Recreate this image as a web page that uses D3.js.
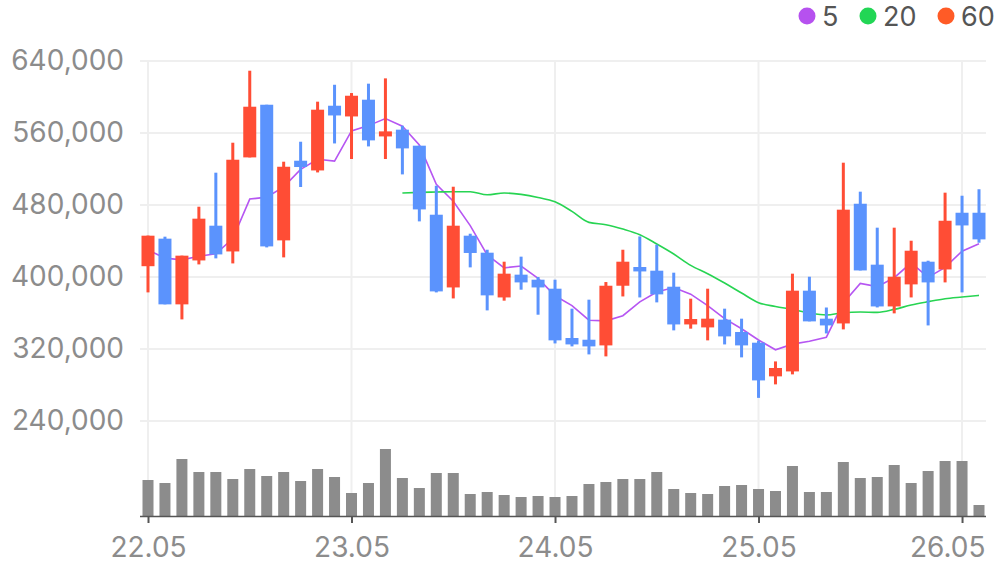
<!DOCTYPE html>
<html>
<head>
<meta charset="utf-8">
<script src="https://cdn.jsdelivr.net/npm/d3@7/dist/d3.min.js"></script>
<style>
  html, body { margin: 0; padding: 0; background: #ffffff; }
  svg { display: block; }
  text { font-family: Inter, "Noto Sans", sans-serif; }
</style>
</head>
<body>
<svg id="chart" width="996" height="567"></svg>
<script>
// ---- data (monthly candles, values in KRW) ----
const months = ["22.05","22.06","22.07","22.08","22.09","22.10","22.11","22.12",
  "23.01","23.02","23.03","23.04","23.05","23.06","23.07","23.08","23.09","23.10","23.11","23.12",
  "24.01","24.02","24.03","24.04","24.05","24.06","24.07","24.08","24.09","24.10","24.11","24.12",
  "25.01","25.02","25.03","25.04","25.05","25.06","25.07","25.08","25.09","25.10","25.11","25.12",
  "26.01","26.02","26.03","26.04","26.05","26.06"];
const openV  = [412000,442600,369600,418400,457000,428400,532900,591400,440700,529200,518400,590300,578400,597000,556200,563700,545900,469200,388400,445900,
  427000,377300,402600,397000,387000,332200,330300,324000,390300,411100,407000,389200,347300,344000,352600,338900,327000,289600,295100,384800,
  353700,348400,481400,413700,367300,391800,417000,408400,471400,471400];
const highV  = [446000,444800,423700,478100,515900,549200,629200,591400,528100,550300,594800,613600,604400,614800,620700,568100,545900,501400,500300,448100,
  430300,417000,422600,400000,397000,364800,374800,394400,430300,445100,435900,404800,375900,387000,364800,353700,329200,306200,403700,400300,
  366100,527000,494800,454800,454800,440300,418100,493700,490300,497500];
const lowV   = [382900,369600,352900,414000,420700,415100,532900,432900,421800,500000,516200,548400,531100,545100,531100,514000,461800,382900,376200,410700,
  362900,373700,385900,358100,326200,322900,314000,311800,378400,377300,371800,340700,342600,329600,325100,310700,265700,280700,291800,350700,
  337300,341800,407300,366200,359600,377300,346200,394000,382900,438100];
const closeV = [445900,369600,423700,464800,425100,530300,589200,434000,522500,522200,585900,579500,601400,551800,561800,542900,475100,384000,457000,426700,
  379600,403700,394000,388400,329600,325100,322900,390300,417000,406200,380700,347300,353300,353700,334000,324000,285100,298900,384800,350700,
  346200,474800,407300,367300,400300,429200,394000,462500,457300,441800];
const volumeV = [36,33,57,44,44,37,47,40,44,35,47,39,23,33,67,38,28,43,43,22,
  24,21,19,20,19,20,32,34,37,37,44,27,23,22,30,31,27,25,50,24,
  24,54,38,39,51,33,45,55,55,11];
// moving averages (null = not drawn)
const ma5V = [430000,421000,419000,423000,425800,442700,486600,488700,500200,519600,530800,528800,562300,568200,576100,567500,546600,503100,484200,457100,
  424500,410200,412200,398500,379100,368200,352000,351300,357000,372300,383400,388300,380900,368200,353800,342500,330000,319100,325400,328700,
  333100,371100,392800,389300,399200,415800,399600,410700,428700,437000];
const ma20V = [null,null,null,null,null,null,null,null,null,null,null,null,null,null,null,493300,494000,494400,494800,494800,
  491400,493300,491800,488400,483500,472900,460700,458100,453300,447000,436700,425600,412900,403700,393300,382200,371500,367300,364000,360000,
  357800,360300,361100,360700,364000,368900,372600,375900,377800,379600];
const yTicks = [240000,320000,400000,480000,560000,640000];
const xTickIdx = [0,12,24,36,48];
const legendLabels = ["5","20","60"];
const legendColors = ["#b651ef","#22d655","#ff5b26"];

// ---- layout ----
const svg = d3.select("#chart");
const plotLeft = 140, plotRight = 986;
const x = d3.scaleLinear().domain([0, months.length - 1]).range([148, 979]);
const y = d3.scaleLinear().domain([240000, 640000]).range([421, 61]);
const yVol = d3.scaleLinear().domain([0, 67]).range([516, 449]);
const UP = "#ff4d35", DOWN = "#5b93fd";
const idx = d3.range(months.length);

// horizontal gridlines
svg.append("g").selectAll("line").data(yTicks).join("line")
  .attr("x1", plotLeft).attr("x2", plotRight)
  .attr("y1", d => y(d)).attr("y2", d => y(d))
  .attr("stroke", "#efefef").attr("stroke-width", 2);
// vertical gridlines
svg.append("g").selectAll("line").data(xTickIdx).join("line")
  .attr("x1", d => x(d)).attr("x2", d => x(d))
  .attr("y1", 61).attr("y2", 516)
  .attr("stroke", "#efefef").attr("stroke-width", 2);

// y axis labels
const yAxis = d3.axisLeft(y).tickValues(yTicks).tickFormat(d3.format(",")).tickSize(0).tickPadding(0);
const gy = svg.append("g").attr("transform", "translate(124,0)").call(yAxis);
gy.select(".domain").remove();
gy.selectAll("text").attr("fill", "#8c8c8c").style("font-size", "28px").style("font-family", "Inter, sans-serif");

// volume bars
svg.append("g").selectAll("rect").data(idx).join("rect")
  .attr("x", i => x(i) - 5.5).attr("width", 11)
  .attr("y", i => yVol(volumeV[i])).attr("height", i => yVol(0) - yVol(volumeV[i]))
  .attr("fill", "#8c8c8c");

// bottom axis
const xAxis = d3.axisBottom(x).tickValues(xTickIdx).tickFormat(i => months[i]).tickSize(7).tickPadding(14).tickSizeOuter(0);
const gx = svg.append("g").attr("transform", "translate(0,516)").call(xAxis);
gx.select(".domain").attr("d", `M${plotLeft},0.5H${plotRight}`).attr("stroke", "#555").attr("stroke-width", 1.5);
gx.selectAll(".tick line").attr("stroke", "#555").attr("stroke-width", 2);
gx.selectAll("text").attr("fill", "#8c8c8c").style("font-size", "28px").style("font-family", "Inter, sans-serif");
// keep the last label inside the plot's right edge
const lastTick = xTickIdx[xTickIdx.length - 1];
gx.selectAll(".tick text").filter(d => d === lastTick)
  .attr("text-anchor", "end").attr("x", plotRight - 1 - x(lastTick));

// moving average lines
const line5 = d3.line().x(i => x(i)).y(i => y(ma5V[i]));
svg.append("path").datum(idx).attr("d", line5)
  .attr("fill", "none").attr("stroke", "#b656f2").attr("stroke-width", 1.6);
const line20 = d3.line().defined(i => ma20V[i] !== null).x(i => x(i)).y(i => y(ma20V[i])).curve(d3.curveMonotoneX);
svg.append("path").datum(idx).attr("d", line20)
  .attr("fill", "none").attr("stroke", "#27d452").attr("stroke-width", 1.6);

// candles
const cg = svg.append("g").selectAll("g").data(idx).join("g");
cg.append("rect")
  .attr("x", i => x(i) - 1.5).attr("width", 3)
  .attr("y", i => y(highV[i])).attr("height", i => Math.max(1, y(lowV[i]) - y(highV[i])))
  .attr("fill", i => closeV[i] >= openV[i] ? UP : DOWN);
cg.append("rect")
  .attr("x", i => x(i) - 6.5).attr("width", 13)
  .attr("y", i => y(Math.max(openV[i], closeV[i])))
  .attr("height", i => Math.max(2, Math.abs(y(openV[i]) - y(closeV[i]))))
  .attr("fill", i => closeV[i] >= openV[i] ? UP : DOWN);

// legend
const legendX = [807, 868, 946];
const lg = svg.append("g").selectAll("g").data(legendLabels).join("g")
  .attr("transform", (d, k) => `translate(${legendX[k]},16)`);
lg.append("circle").attr("r", 8.5).attr("fill", (d, k) => legendColors[k]);
lg.append("text").attr("x", 15).attr("y", 9.5).text(d => d)
  .attr("fill", "#555").style("font-size", "27px").style("font-family", "Inter, sans-serif");
</script>
</body>
</html>
